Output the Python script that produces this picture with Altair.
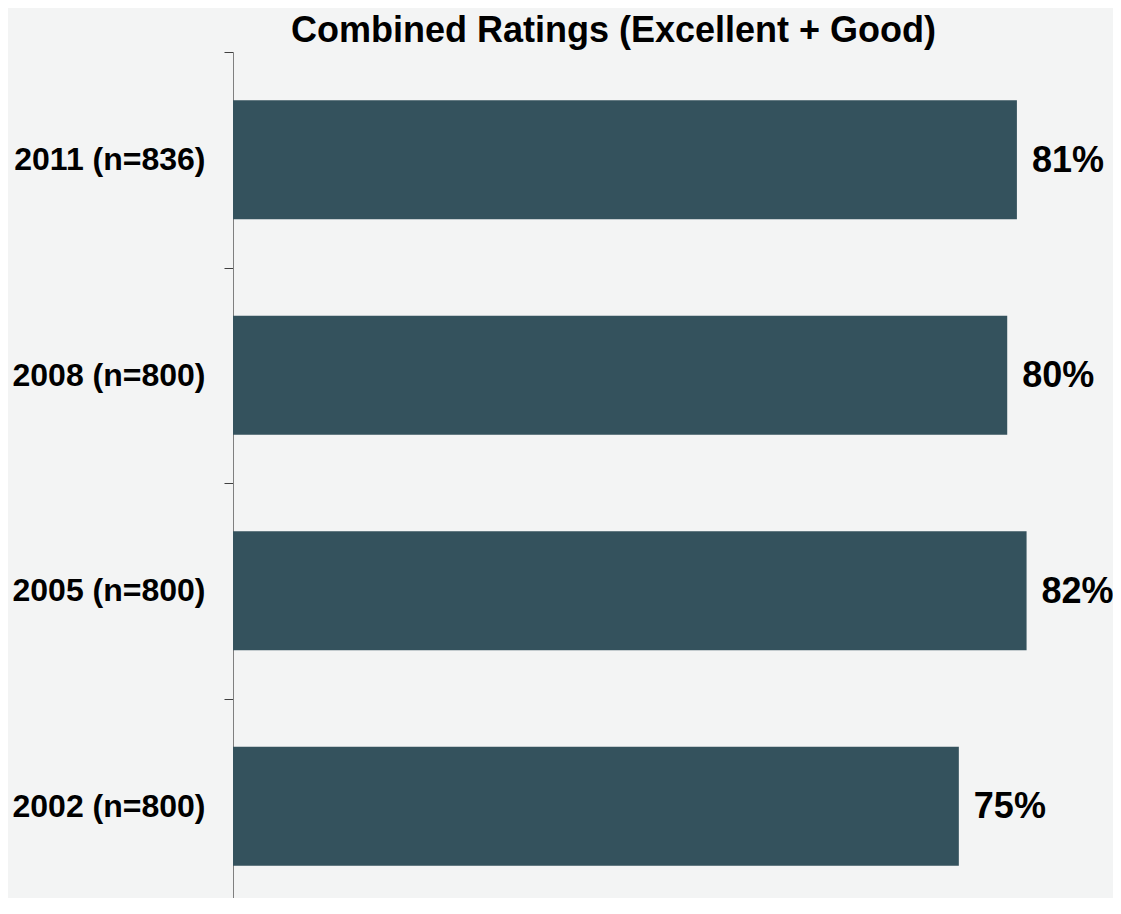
import altair as alt
import pandas as pd

categories = ["2011 (n=836)", "2008 (n=800)", "2005 (n=800)", "2002 (n=800)"]
values = [81, 80, 82, 75]
labels = ["81%", "80%", "82%", "75%"]

df = pd.DataFrame({"cat": categories, "val": values, "lab": labels})

FONT = "Liberation Sans"

y_enc = alt.Y(
    "cat:N",
    sort=categories,
    scale=alt.Scale(paddingInner=0, paddingOuter=0, range=[0, 862]),
    axis=alt.Axis(
        title=None,
        tickBand="extent",
        tickSize=9,
        tickColor="#404040",
        domainColor="#7f7f7f",
        labelFont=FONT,
        labelFontSize=32,
        labelFontWeight="bold",
        labelColor="#000000",
        labelPadding=19,
        labelLimit=400,
    ),
)
x_enc = alt.X("val:Q", scale=alt.Scale(domain=[0, 90]), axis=None)

bars = alt.Chart(df).mark_bar(size=119, color="#34525d").encode(x=x_enc, y=y_enc)

text = alt.Chart(df).mark_text(
    align="left", baseline="middle", dx=15, dy=1,
    font=FONT, fontSize=36, fontWeight="bold", color="#000000",
).encode(x=x_enc, y=y_enc, text="lab:N")

chart = (
    alt.layer(bars, text)
    .properties(
        width=871,
        height=846,
        title=alt.TitleParams(
            "Combined Ratings (Excellent + Good)",
            font=FONT, fontSize=36, fontWeight="bold", color="#000000",
            anchor="middle", frame="group", dx=-55, dy=59, offset=17,
            baseline="alphabetic",
        ),
        autosize=alt.AutoSizeParams(type="none"),
        padding={"left": 225, "top": 44, "right": 9, "bottom": 0},
        background="#f3f4f4",
    )
    .configure_view(stroke=None)
)

chart.save("out.html", embed_options={"renderer": "svg", "actions": False})
